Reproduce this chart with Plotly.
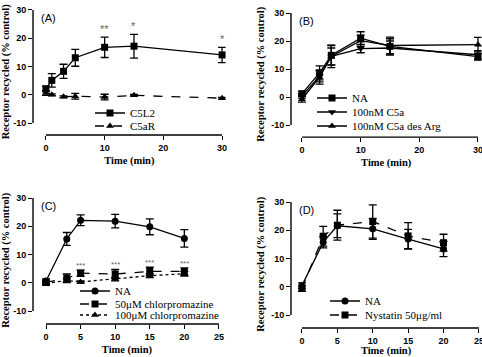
import plotly.graph_objects as go

# ---------------- data ----------------
# Panel A
a_time = [0, 1, 3, 5, 10, 15, 30]
a_c5l2 = [2.1, 5.1, 8.3, 13.1, 16.8, 17.2, 14.1]
a_c5l2_err = [1.0, 2.4, 2.5, 3.0, 3.6, 4.2, 2.7]
a_c5ar = [0.6, 0.0, -0.7, -0.5, -0.8, -0.2, -1.2]
a_c5ar_err = [0.8, 0.3, 0.3, 1.0, 1.0, 0.3, 0.3]
a_sig_x = [10, 15, 30]
a_sig_lbl = ["**", "*", "*"]

# Panel B
b_time = [0, 3, 5, 10, 15, 30]
b_na = [1.2, 8.6, 14.9, 21.0, 18.1, 14.4]
b_na_err = [0.8, 2.5, 3.5, 2.3, 2.7, 1.2]
b_c5a = [0.4, 7.4, 14.5, 17.3, 17.5, 15.1]
b_c5a_err = [0.8, 2.0, 3.0, 1.5, 2.5, 1.5]
b_desarg = [-0.8, 7.1, 14.5, 20.1, 18.4, 18.7]
b_desarg_err = [1.0, 2.5, 4.0, 2.0, 3.0, 2.6]

# Panel C
c_time = [0, 3, 5, 10, 15, 20]
c_na = [0.6, 15.5, 22.1, 21.8, 19.8, 15.7]
c_na_err = [0.8, 2.3, 1.9, 2.4, 2.8, 3.1]
c_cpz50 = [0.1, 1.6, 3.4, 3.1, 4.0, 4.0]
c_cpz50_err = [0.8, 1.5, 1.1, 1.6, 1.5, 1.3]
c_cpz100 = [-0.2, 0.8, 0.3, 1.3, 2.5, 3.2]
c_cpz100_err = [0.6, 0.6, 0.4, 0.6, 0.7, 0.8]
c_sig_x = [5, 10, 15, 20]
c_sig_lbl = ["***", "***", "***", "***"]

# Panel D
d_time = [0, 3, 5, 10, 15, 20]
d_na = [0.4, 15.8, 21.6, 20.5, 16.9, 13.4]
d_na_err = [1.0, 2.0, 4.2, 3.7, 3.4, 2.7]
d_nys = [-0.6, 17.9, 21.8, 23.1, 18.0, 15.6]
d_nys_err = [1.0, 3.5, 5.3, 5.9, 4.7, 3.0]

YTICKS = [-10, 0, 10, 20, 30]
YTICK_TEXT = ["-10", "0", "10", "20", "30"]
AB_XTICKS = [0, 10, 20, 30]
CD_XTICKS = [0, 5, 10, 15, 20, 25]
PANEL_LABELS = ["(A)", "(B)", "(C)", "(D)"]
Y_TITLE = "Receptor recycled (% control)"
X_TITLE = "Time (min)"

W, H = 482, 357
BLACK = "#000000"
SERIF = "Liberation Serif"
SANS = "Liberation Sans"

fig = go.Figure()

legend_pos = {}


def add_series(x, y, err, name, symbol, dash, xa, ya, legend, lx, ly):
    fig.add_trace(go.Scatter(
        x=x, y=y, name=name, mode="lines+markers",
        line=dict(color=BLACK, width=1.3, dash=dash),
        marker=dict(symbol=symbol, size=7, color=BLACK),
        error_y=dict(type="data", array=err, visible=True, color=BLACK,
                     thickness=1.3, width=4),
        xaxis=xa, yaxis=ya, legend=legend, cliponaxis=False,
    ))
    legend_pos[legend] = (lx, ly)


# Panel A
add_series(a_time, a_c5l2, a_c5l2_err, "C5L2", "square", "solid", "x", "y", "legend", 130, 113)
add_series(a_time, a_c5ar, a_c5ar_err, "C5aR", "triangle-up", "dash", "x", "y", "legend2", 130, 126)
# Panel B
add_series(b_time, b_na, b_na_err, "NA", "square", "solid", "x2", "y2", "legend3", 352, 98)
add_series(b_time, b_c5a, b_c5a_err, "100nM C5a", "triangle-down", "solid", "x2", "y2", "legend4", 352, 112)
add_series(b_time, b_desarg, b_desarg_err, "100nM C5a des Arg", "triangle-up", "solid", "x2", "y2", "legend5", 352, 126)
# Panel C
add_series(c_time, c_na, c_na_err, "NA", "circle", "solid", "x3", "y3", "legend6", 115, 291)
add_series(c_time, c_cpz50, c_cpz50_err, "50\u03bcM chlorpromazine", "square", "dash", "x3", "y3", "legend7", 115, 304)
add_series(c_time, c_cpz100, c_cpz100_err, "100\u03bcM chlorpromazine", "triangle-up", "dot", "x3", "y3", "legend8", 115, 315)
# Panel D
add_series(d_time, d_na, d_na_err, "NA", "circle", "solid", "x4", "y4", "legend9", 365, 301)
add_series(d_time, d_nys, d_nys_err, "Nystatin 50\u03bcg/ml", "square", "dash", "x4", "y4", "legend10", 365, 315)

panels = [
    ("xaxis", "yaxis", [0.0685, 0.468], [0.622, 0.976], [-2.2, 30.6], [-14.2, 30.5], AB_XTICKS, 30),
    ("xaxis2", "yaxis2", [0.6037, 0.999], [0.616, 0.9675], [-1.87, 30.6], [-14.3, 30.5], AB_XTICKS, 30),
    ("xaxis3", "yaxis3", [0.0685, 0.4585], [0.0924, 0.4493], [-1.88, 25.3], [-14.6, 30.5], CD_XTICKS, 25),
    ("xaxis4", "yaxis4", [0.6037, 0.998], [0.0812, 0.438], [-1.55, 25.3], [-14.6, 30.5], CD_XTICKS, 25),
]

tickfont = dict(family=SANS, size=9, color=BLACK, weight="bold")
titlefont = dict(family=SERIF, size=10.5, color=BLACK, weight="bold")

layout = {}
for i, (xa, ya, xd, yd, xr, yr, xt, xmax) in enumerate(panels):
    suffix = "" if i == 0 else str(i + 1)
    layout[xa] = dict(domain=xd, range=xr, anchor="y" + suffix, showgrid=False,
                      zeroline=False, showline=False, ticks="outside", ticklen=4,
                      tickwidth=1.3, tickcolor=BLACK, tickvals=xt, automargin=False,
                      ticktext=[str(v) for v in xt], tickfont=tickfont,
                      ticklabeloverflow="allow",
                      title=dict(text=X_TITLE, font=titlefont, standoff=4))
    layout[ya] = dict(domain=yd, range=yr, anchor="x" + suffix, showgrid=False,
                      zeroline=False, showline=False, ticks="outside", ticklen=4,
                      tickwidth=1.3, tickcolor=BLACK, tickvals=YTICKS, automargin=False,
                      ticktext=YTICK_TEXT, tickfont=tickfont,
                      ticklabeloverflow="allow",
                      title=dict(text=Y_TITLE, font=titlefont, standoff=4))
    fig.add_shape(type="line", xref="x" + suffix, yref="y" + suffix + " domain",
                  x0=0, x1=xmax, y0=0, y1=0, line=dict(color=BLACK, width=1.4))
    fig.add_shape(type="line", xref="x" + suffix + " domain", yref="y" + suffix,
                  x0=0, x1=0, y0=-10, y1=30, line=dict(color=BLACK, width=1.4))
    fig.add_annotation(xref="x" + suffix + " domain", yref="y" + suffix + " domain",
                       x=0.03, y=0.99, xanchor="left", yanchor="top",
                       text=PANEL_LABELS[i], showarrow=False,
                       font=dict(family=SANS, size=11, color=BLACK))

for xv, lbl in zip(a_sig_x, a_sig_lbl):
    idx = a_time.index(xv)
    fig.add_annotation(x=xv, y=a_c5l2[idx] + a_c5l2_err[idx], xref="x", yref="y",
                       text=lbl, showarrow=False, yanchor="bottom", yshift=0,
                       font=dict(family=SANS, size=11, color="#666666"))
for xv, lbl in zip(c_sig_x, c_sig_lbl):
    idx = c_time.index(xv)
    fig.add_annotation(x=xv, y=c_cpz50[idx] + c_cpz50_err[idx], xref="x3", yref="y3",
                       text=lbl, showarrow=False, yanchor="bottom", yshift=-2,
                       font=dict(family=SANS, size=8, color="#666666"))

legfont = dict(family=SERIF, size=11, color=BLACK)
TEXT_OFFSET = 40
legends = {}
for lg, (lx, ly) in legend_pos.items():
    legends[lg] = dict(font=legfont, bgcolor="rgba(0,0,0,0)", borderwidth=0,
                       xanchor="left", yanchor="middle", itemwidth=30,
                       x=(lx - TEXT_OFFSET) / W, y=1 - ly / H)

fig.update_layout(
    width=W, height=H, autosize=False,
    margin=dict(l=0, r=0, t=0, b=0, autoexpand=False),
    paper_bgcolor="white", plot_bgcolor="white",
    showlegend=True,
    **legends,
    **layout,
)

fig.write_html("out.html", config={"displayModeBar": False},
               post_script="document.body.style.margin='0';document.body.style.padding='0';")
